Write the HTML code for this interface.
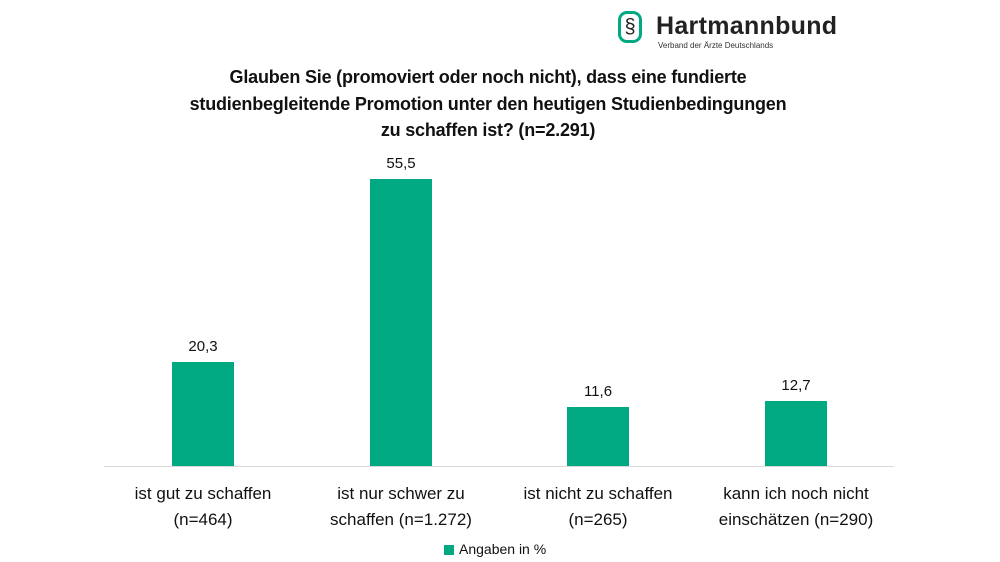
<!DOCTYPE html>
<html><head><meta charset="utf-8"><style>
body{margin:0;width:1000px;height:562px;background:#fff;position:relative;font-family:"Liberation Sans",sans-serif;color:#111;overflow:hidden}
.a{position:absolute}
.bar{position:absolute;background:#00a982;width:62px}
.v{position:absolute;width:100px;text-align:center;font-size:15px}
.c{position:absolute;width:220px;text-align:center;font-size:17px;line-height:26px}
.t{position:absolute;left:88px;width:800px;top:64px;text-align:center;font-weight:bold;font-size:18px;line-height:26.5px;white-space:nowrap;letter-spacing:-0.2px}
</style></head><body>
<div class="a" style="left:618px;top:11px;width:24px;height:32px;border:3px solid #00a982;border-radius:9px;box-sizing:border-box;text-align:center;font-size:20px;line-height:26px;color:#222">§</div>
<div class="a" style="left:656px;top:12px;font-size:25px;font-weight:bold;color:#222;letter-spacing:0.3px">Hartmannbund</div>
<div class="a" style="left:658px;top:41px;font-size:8px;color:#333">Verband der Ärzte Deutschlands</div>
<div class="t">Glauben Sie (promoviert oder noch nicht), dass eine fundierte<br>studienbegleitende Promotion unter den heutigen Studienbedingungen<br>zu schaffen ist? (n=2.291)</div>
<div class="a" style="left:104px;top:466px;width:790px;height:1px;background:#d9d9d9"></div>
<div class="bar" style="left:172px;top:362px;height:104px"></div>
<div class="bar" style="left:370px;top:179px;height:287px"></div>
<div class="bar" style="left:567px;top:407px;height:59px"></div>
<div class="bar" style="left:765px;top:401px;height:65px"></div>
<div class="v" style="left:153px;top:338px">20,3</div>
<div class="v" style="left:351px;top:155px">55,5</div>
<div class="v" style="left:548px;top:383px">11,6</div>
<div class="v" style="left:746px;top:377px">12,7</div>
<div class="c" style="left:93px;top:481px">ist gut zu schaffen<br>(n=464)</div>
<div class="c" style="left:291px;top:481px">ist nur schwer zu<br>schaffen (n=1.272)</div>
<div class="c" style="left:488px;top:481px">ist nicht zu schaffen<br>(n=265)</div>
<div class="c" style="left:686px;top:481px">kann ich noch nicht<br>einschätzen (n=290)</div>
<div class="a" style="left:444px;top:545px;width:10px;height:10px;background:#00a982"></div>
<div class="a" style="left:459px;top:541px;font-size:14px">Angaben in %</div>
</body></html>
